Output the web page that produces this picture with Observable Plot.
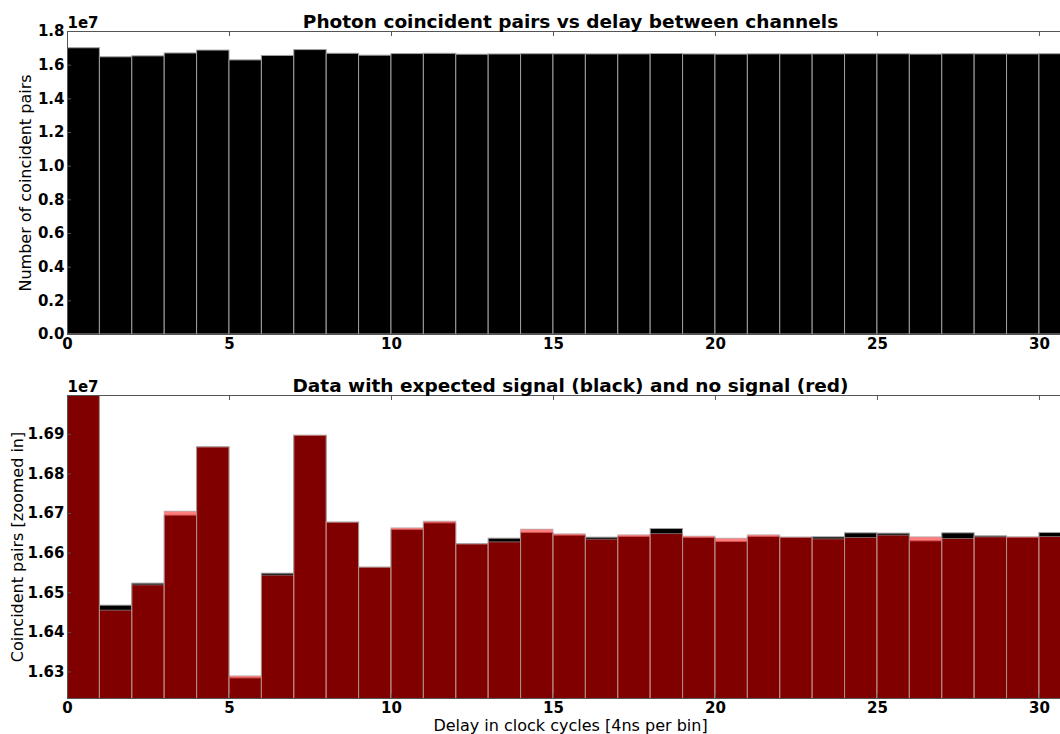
<!DOCTYPE html>
<html>
<head>
<meta charset="utf-8">
<script src="https://cdn.jsdelivr.net/npm/d3@7"></script>
<script src="https://cdn.jsdelivr.net/npm/@observablehq/plot@0.6"></script>
<style>
  html, body { margin: 0; padding: 0; background: #fff; overflow: hidden; }
  #wrap { width: 1060px; height: 734px; overflow: hidden; position: relative; }
  #wrap svg { display: block; }
  [aria-label="x-axis tick label"], [aria-label="y-axis tick label"] { font-weight: bold; font-size: 15px !important; }
</style>
</head>
<body>
<div id="wrap"></div>
<script>
// ---- data ----
const delays = [0,1,2,3,4,5,6,7,8,9,10,11,12,13,14,15,16,17,18,19,20,21,22,23,24,25,26,27,28,29,30];
const signal = [17005000,16467400,16523000,16694700,16867000,16283800,16548200,16896000,16677000,16563300,16658300,16675300,16622200,16636500,16650800,16644200,16639100,16640700,16660900,16638200,16628000,16640700,16638800,16639900,16650000,16649200,16629800,16650000,16642400,16639000,16650800];
const noSignal = [17003000,16454800,16518700,16704700,16867000,16288900,16543200,16896700,16677000,16563300,16662600,16679500,16622200,16627300,16659300,16647500,16634000,16645000,16648200,16641700,16636500,16645000,16639200,16634800,16638200,16644200,16639900,16635700,16639900,16639900,16640700];
const xTicks = [0,5,10,15,20,25,30];
const yTicksTop = [0,2e6,4e6,6e6,8e6,1e7,1.2e7,1.4e7,1.6e7,1.8e7];
const yTicksBottom = [1.63e7,1.64e7,1.65e7,1.66e7,1.67e7,1.68e7,1.69e7];
const titleTop = "Photon coincident pairs vs delay between channels";
const titleBottom = "Data with expected signal (black) and no signal (red)";
const yLabelTop = "Number of coincident pairs";
const yLabelBottom = "Coincident pairs [zoomed in]";
const xLabel = "Delay in clock cycles [4ns per bin]";

const sigData = delays.map((d, i) => ({delay: d, count: signal[i]}));
const noData = delays.map((d, i) => ({delay: d, count: noSignal[i]}));

const common = {
  width: 1060,
  marginLeft: 67,
  marginRight: 0,
  style: {fontFamily: "DejaVu Sans", fontSize: "15px", color: "#000", background: "#fff"},
  x: {domain: [0, 30.65]}
};
const axisColor = "#555";
const edge = "#a0a0a0";
const titleShift = 6.5; // axes extend past the cropped right edge

const topPlot = Plot.plot({
  ...common,
  height: 360,
  marginTop: 31,
  marginBottom: 26,
  y: {domain: [0, 1.8e7]},
  marks: [
    Plot.rectY(sigData, {x1: "delay", x2: d => d.delay + 1, y: "count", fill: "black", stroke: edge, strokeWidth: 1, clip: true}),
    Plot.frame({stroke: axisColor}),
    Plot.axisX({ticks: xTicks, tickSize: -4, tickPadding: 8, stroke: axisColor, label: null}),
    Plot.axisX({anchor: "top", ticks: xTicks, tickSize: -4, tickFormat: () => "", stroke: axisColor, label: null}),
    Plot.axisY({ticks: yTicksTop, tickSize: -4, tickPadding: 7, tickFormat: d => (d / 1e7).toFixed(1), stroke: axisColor, label: null}),
    Plot.text([titleTop], {frameAnchor: "top", lineAnchor: "middle", dy: -9, dx: titleShift, fontSize: 18.5, fontWeight: "bold"}),
    Plot.text(["1e7"], {frameAnchor: "top-left", textAnchor: "start", lineAnchor: "middle", dy: -8, fontSize: 15, fontWeight: "bold"}),
    Plot.text([yLabelTop], {frameAnchor: "left", textAnchor: "middle", lineAnchor: "middle", rotate: -90, dx: -42, fontSize: 16})
  ]
});

const bottomPlot = Plot.plot({
  ...common,
  height: 374,
  marginTop: 35,
  marginBottom: 36,
  y: {domain: [1.6233e7, 1.6998e7]},
  marks: [
    Plot.rectY(sigData, {x1: "delay", x2: d => d.delay + 1, y: "count", fill: "black", stroke: edge, strokeWidth: 1, clip: true}),
    Plot.rectY(noData, {x1: "delay", x2: d => d.delay + 1, y: "count", fill: "red", fillOpacity: 0.5, stroke: edge, strokeOpacity: 0.6, strokeWidth: 1, clip: true}),
    Plot.frame({stroke: axisColor}),
    Plot.axisX({ticks: xTicks, tickSize: -4, tickPadding: 8, stroke: axisColor, label: null}),
    Plot.axisX({anchor: "top", ticks: xTicks, tickSize: -4, tickFormat: () => "", stroke: axisColor, label: null}),
    Plot.axisY({ticks: yTicksBottom, tickSize: -4, tickPadding: 7, tickFormat: d => (d / 1e7).toFixed(2), stroke: axisColor, label: null}),
    Plot.text([titleBottom], {frameAnchor: "top", lineAnchor: "middle", dy: -9, dx: titleShift, fontSize: 18.5, fontWeight: "bold"}),
    Plot.text(["1e7"], {frameAnchor: "top-left", textAnchor: "start", lineAnchor: "middle", dy: -8, fontSize: 15, fontWeight: "bold"}),
    Plot.text([yLabelBottom], {frameAnchor: "left", textAnchor: "middle", lineAnchor: "middle", rotate: -90, dx: -50, fontSize: 16}),
    Plot.text([xLabel], {frameAnchor: "bottom", lineAnchor: "middle", dy: 27, dx: titleShift, fontSize: 16})
  ]
});

const wrap = document.getElementById("wrap");
wrap.appendChild(topPlot);
wrap.appendChild(bottomPlot);
</script>
</body>
</html>
